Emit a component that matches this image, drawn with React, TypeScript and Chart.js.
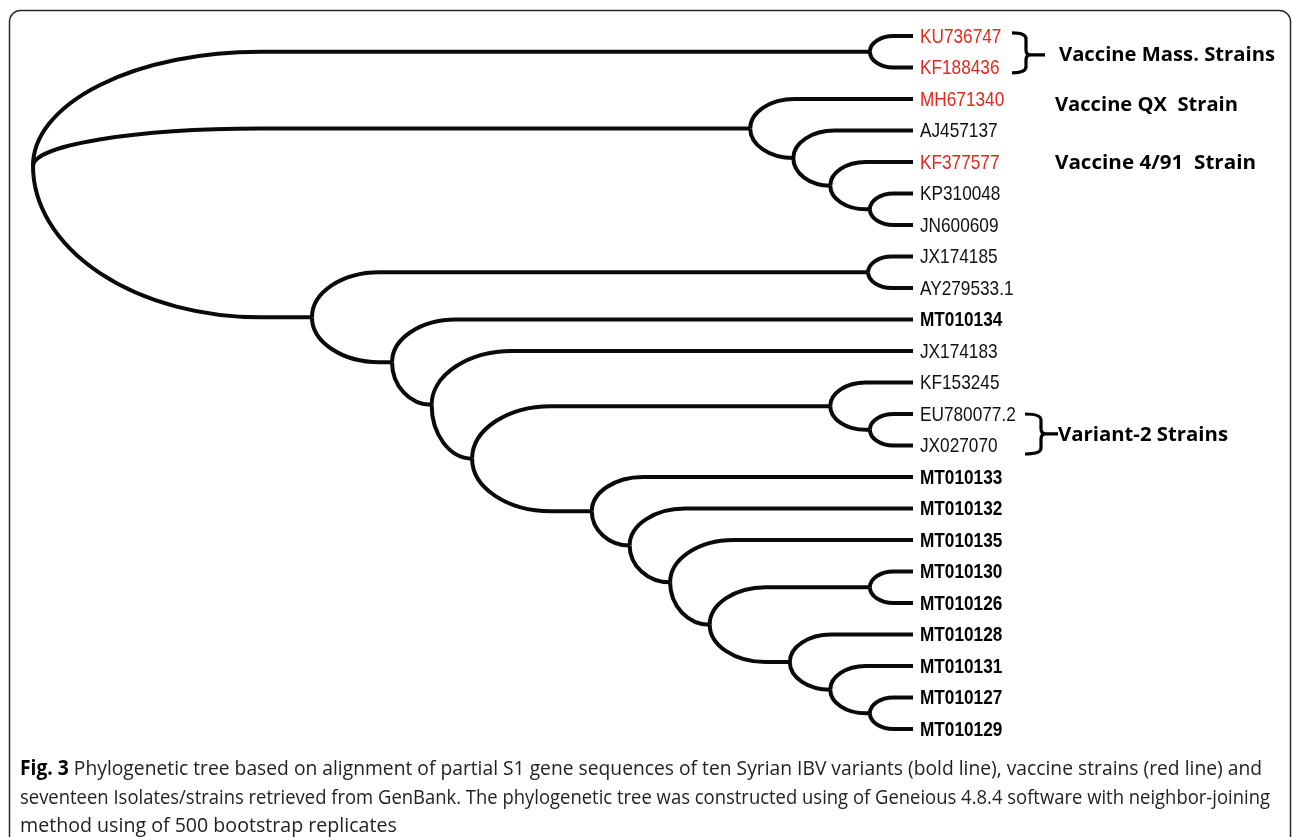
import React, { useEffect, useRef } from 'react';
import { Chart, registerables } from 'chart.js';

Chart.register(...registerables);

// ---------- DATA ----------
const leafNames = [
  'KU736747', 'KF188436', 'MH671340', 'AJ457137', 'KF377577', 'KP310048', 'JN600609',
  'JX174185', 'AY279533.1', 'MT010134', 'JX174183', 'KF153245', 'EU780077.2', 'JX027070',
  'MT010133', 'MT010132', 'MT010135', 'MT010130', 'MT010126', 'MT010128', 'MT010131',
  'MT010127', 'MT010129',
];
// 'v' = vaccine strain (red), 's' = Syrian variant (bold), 'r' = GenBank reference
const leafGroup = [
  'v', 'v', 'v', 'r', 'v', 'r', 'r',
  'r', 'r', 's', 'r', 'r', 'r', 'r',
  's', 's', 's', 's', 's', 's', 's',
  's', 's',
];
const leafParent = [
  'A', 'A', 'B', 'C', 'D', 'E', 'E',
  'G', 'G', 'H', 'I', 'T', 'L', 'L',
  'K', 'M', 'N', 'P', 'P', 'Q', 'R',
  'S', 'S',
];
const leafDepth = 100;

const nodeIds = ['root', 'A', 'B', 'C', 'D', 'E', 'F', 'G', 'H', 'I', 'J', 'T', 'L', 'K', 'M', 'N', 'O', 'P', 'Q', 'R', 'S'];
const nodeParent = [null, 'root', 'root', 'B', 'C', 'D', 'root', 'F', 'F', 'H', 'I', 'J', 'T', 'J', 'K', 'M', 'N', 'O', 'O', 'Q', 'R'];
const nodeDepth = [0, 95.1, 81.5, 86.4, 90.6, 95.1, 31.7, 94.9, 40.8, 45.3, 49.9, 90.6, 95.1, 63.5, 67.8, 72.4, 76.9, 95.1, 86.0, 90.6, 95.1];

const groupLabels = ['Vaccine Mass. Strains', 'Vaccine QX  Strain', 'Vaccine 4/91  Strain', 'Variant-2 Strains'];
const groupRows = [0.6, 2.2, 4.05, 12.67];

const captionBold = 'Fig. 3';
const captionLines = [
  ' Phylogenetic tree based on alignment of partial S1 gene sequences of ten Syrian IBV variants (bold line), vaccine strains (red line) and',
  'seventeen Isolates/strains retrieved from GenBank. The phylogenetic tree was constructed using of Geneious 4.8.4 software with neighbor-joining',
  'method using of 500 bootstrap replicates',
];

// ---------- TREE LAYOUT (y = mean of children, in leaf-row units) ----------
type N = { id: string; x: number; y: number; parent: string | null; children: string[] };
function buildTree() {
  const nodes: Record<string, N> = {};
  nodeIds.forEach((id, i) => {
    nodes[id] = { id, x: nodeDepth[i], y: NaN, parent: nodeParent[i], children: [] };
  });
  leafNames.forEach((name, i) => {
    const id = 'leaf' + i;
    nodes[id] = { id, x: leafDepth, y: i, parent: leafParent[i], children: [] };
  });
  Object.values(nodes).forEach((n) => {
    if (n.parent) nodes[n.parent].children.push(n.id);
  });
  const yOf = (id: string): number => {
    const n = nodes[id];
    if (!isNaN(n.y)) return n.y;
    const ys = n.children.map(yOf);
    n.y = ys.reduce((a, b) => a + b, 0) / ys.length;
    return n.y;
  };
  yOf('root');
  return nodes;
}
const tree = buildTree();

const treePlugin = {
  id: 'phyloTree',
  beforeDraw(chart: any) {
    const ctx = chart.ctx as CanvasRenderingContext2D;
    ctx.save();
    ctx.fillStyle = '#ffffff';
    ctx.fillRect(0, 0, chart.width, chart.height);
    ctx.strokeStyle = '#2a2a2a';
    ctx.lineWidth = 1.5;
    ctx.beginPath();
    (ctx as any).roundRect(9.5, 10.5, 1281, 900, 11);
    ctx.stroke();
    ctx.restore();
  },
  afterDatasetsDraw(chart: any) {
    const ctx = chart.ctx as CanvasRenderingContext2D;
    const xs = chart.scales.x;
    const ys = chart.scales.y;
    const px = (v: number) => xs.getPixelForValue(v);
    const py = (v: number) => ys.getPixelForValue(v);

    // branches
    ctx.save();
    ctx.strokeStyle = '#0a0a0a';
    ctx.lineWidth = 4;
    ctx.lineCap = 'butt';
    ctx.lineJoin = 'round';
    Object.values(tree).forEach((n) => {
      if (!n.parent) return;
      const p = tree[n.parent];
      const x0 = px(p.x), y0 = py(p.y);
      const x1 = px(n.x), y1 = py(n.y);
      const span = Math.max(...p.children.map((c) => Math.abs(py(tree[c].y) - y0)));
      const rx = Math.min(x1 - x0, 1.5 * span);
      const ry = Math.abs(y1 - y0);
      ctx.beginPath();
      ctx.moveTo(x0, y0);
      if (ry < 0.5 || rx < 0.5) {
        ctx.lineTo(x1, y1);
      } else if (y1 < y0) {
        ctx.ellipse(x0 + rx, y0, rx, ry, 0, Math.PI, Math.PI * 1.5, false);
      } else {
        ctx.ellipse(x0 + rx, y0, rx, ry, 0, Math.PI, Math.PI * 0.5, true);
      }
      ctx.lineTo(x1, y1);
      ctx.stroke();
    });
    ctx.restore();

    // leaf labels (condensed sans)
    leafNames.forEach((name, i) => {
      const g = leafGroup[i];
      ctx.save();
      ctx.translate(px(leafDepth) + 7, py(i) + 1);
      ctx.scale(0.82, 1);
      ctx.font = (g === 's' ? 'bold ' : '') + '21px "Liberation Sans", Arial, sans-serif';
      ctx.fillStyle = g === 'v' ? '#e3281c' : g === 's' ? '#000000' : '#111111';
      ctx.textBaseline = 'middle';
      ctx.fillText(name, 0, 0);
      ctx.restore();
    });

    // group annotation labels
    const labelX = [1059, 1055, 1055, 1058];
    const labelW = [216, 183, 201, 170];
    groupLabels.forEach((t, i) => {
      ctx.save();
      ctx.font = 'bold 20px "Open Sans", sans-serif';
      const w = ctx.measureText(t).width;
      ctx.translate(labelX[i], py(groupRows[i]));
      ctx.scale(labelW[i] / w, 1);
      ctx.fillStyle = '#000';
      ctx.textBaseline = 'middle';
      ctx.fillText(t, 0, 0);
      ctx.restore();
    });

    // brackets
    const bracket = (xL: number, xV: number, xT: number, r0: number, r1: number, rm: number) => {
      const yT = py(r0), yB = py(r1), yM = py(rm);
      ctx.save();
      ctx.strokeStyle = '#000';
      ctx.lineWidth = 3.2;
      ctx.lineJoin = 'round';
      ctx.beginPath();
      ctx.moveTo(xL, yT);
      ctx.quadraticCurveTo(xV, yT, xV, yT + 6);
      ctx.lineTo(xV, yM - 5);
      ctx.quadraticCurveTo(xV, yM, xV + 5, yM);
      ctx.lineTo(xT, yM);
      ctx.moveTo(xV + 5, yM);
      ctx.quadraticCurveTo(xV, yM, xV, yM + 5);
      ctx.lineTo(xV, yB - 6);
      ctx.quadraticCurveTo(xV, yB, xL, yB);
      ctx.stroke();
      ctx.restore();
    };
    bracket(1012, 1026, 1045, -0.1, 1.17, 0.6);
    bracket(1025, 1041, 1058, 12.0, 13.27, 12.63);

    // caption
    ctx.save();
    ctx.textBaseline = 'alphabetic';
    const fs = 20.5;
    const bases = [775, 804, 832];
    const targetW = [1242, 1250];
    const scales: number[] = [];
    captionLines.forEach((line, i) => {
      ctx.font = `bold ${fs}px "Open Sans", sans-serif`;
      const bw = i === 0 ? ctx.measureText(captionBold).width : 0;
      ctx.font = `${fs}px "Open Sans", sans-serif`;
      const lw = ctx.measureText(line).width;
      let sx: number;
      if (i < 2) {
        sx = targetW[i] / (bw + lw);
        scales.push(sx);
      } else {
        sx = ((scales[0] + scales[1]) / 2) * 1.04;
      }
      ctx.save();
      ctx.translate(20, bases[i]);
      ctx.scale(sx, 1);
      if (i === 0) {
        ctx.font = `bold ${fs}px "Open Sans", sans-serif`;
        ctx.fillStyle = '#000';
        ctx.fillText(captionBold, 0, 0);
      }
      ctx.font = `${fs}px "Open Sans", sans-serif`;
      ctx.fillStyle = '#222';
      ctx.fillText(line, bw, 0);
      ctx.restore();
    });
    ctx.restore();
  },
};

export default function App() {
  const ref = useRef<HTMLCanvasElement>(null);
  useEffect(() => {
    if (!ref.current) return;
    const pts = Object.values(tree).map((n) => ({ x: n.x, y: n.y }));
    const chart = new Chart(ref.current, {
      type: 'scatter',
      data: {
        datasets: [{ data: pts, pointRadius: 0, pointHoverRadius: 0, showLine: false }],
      },
      options: {
        animation: false,
        responsive: true,
        maintainAspectRatio: false,
        layout: { padding: { left: 33, right: 380, top: 36, bottom: 108 } },
        plugins: { legend: { display: false }, tooltip: { enabled: false } },
        events: [],
        scales: {
          x: { type: 'linear', min: 0, max: 100, display: false },
          y: { type: 'linear', min: 0, max: 22, reverse: true, display: false },
        },
      },
      plugins: [treePlugin],
    });
    return () => chart.destroy();
  }, []);
  return (
    <div style={{ position: 'fixed', left: 0, top: 0, width: 1293, height: 837, background: '#fff' }}>
      <canvas ref={ref} />
    </div>
  );
}
